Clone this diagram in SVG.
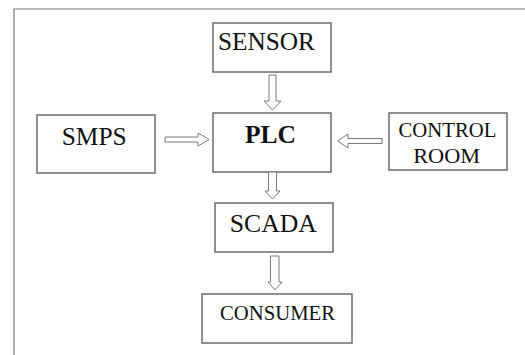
<svg xmlns="http://www.w3.org/2000/svg" width="525" height="355" viewBox="0 0 525 355">
<style>
.box{fill:#fff;stroke:#6b6b6b;stroke-width:1.5}
.arr{fill:#fff;stroke:#7a7a7a;stroke-width:1}
.t{font-family:"Liberation Serif","Times New Roman",serif;fill:#111;text-anchor:middle}
.frame{fill:none;stroke:#777;stroke-width:1.2}
</style>
<rect width="525" height="355" fill="#fff"/>
<path class="frame" d="M14,355 V9 H525"/>
<g id="sensor"><rect class="box" x="213" y="23" width="118" height="49"/><text class="t" x="266.5" y="50" font-size="25" textLength="97" lengthAdjust="spacingAndGlyphs">SENSOR</text></g>
<g id="plc"><rect class="box" x="213" y="113" width="118" height="59"/><text class="t" x="270.5" y="142.5" font-size="26" font-weight="bold" textLength="51" lengthAdjust="spacingAndGlyphs">PLC</text></g>
<g id="smps"><rect class="box" x="37" y="115" width="118" height="58"/><text class="t" x="94.2" y="145" font-size="25" textLength="65" lengthAdjust="spacingAndGlyphs">SMPS</text></g>
<g id="control-room"><rect class="box" x="389" y="113" width="118" height="57"/><text class="t" x="447.5" y="136.5" font-size="21.5" textLength="98" lengthAdjust="spacingAndGlyphs">CONTROL</text><text class="t" x="446.7" y="163" font-size="21.5" textLength="67" lengthAdjust="spacingAndGlyphs">ROOM</text></g>
<g id="scada"><rect class="box" x="215" y="203" width="118" height="49"/><text class="t" x="273.3" y="232" font-size="25.5" textLength="87" lengthAdjust="spacingAndGlyphs">SCADA</text></g>
<g id="consumer"><rect class="box" x="202" y="294" width="150" height="49"/><text class="t" x="277.5" y="320" font-size="21" textLength="115" lengthAdjust="spacingAndGlyphs">CONSUMER</text></g>
<g id="connectors">
<polygon class="arr" points="269,75 276,75 276,101 281,101 272.5,110 264,101 269,101"/>
<polygon class="arr" points="165,137 198,137 198,133 209,139.5 198,146 198,142 165,142"/>
<polygon class="arr" points="382,138.5 348,138.5 348,134 337.5,141 348,148 348,143.5 382,143.5"/>
<polygon class="arr" points="268.5,172 276.5,172 276.5,191 280,191 272.5,199 265,191 268.5,191"/>
<polygon class="arr" points="270.5,256 279,256 279,282 282,282 275,290 268,282 270.5,282"/>
</g>
</svg>
